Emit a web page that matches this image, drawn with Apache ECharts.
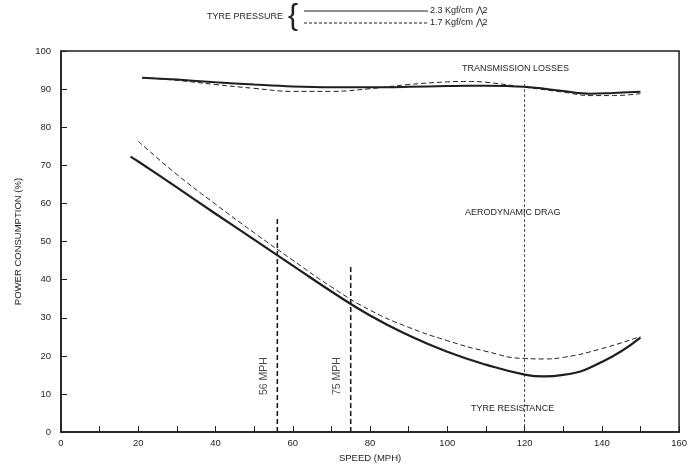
<!DOCTYPE html>
<html><head><meta charset="utf-8">
<script src="https://cdn.jsdelivr.net/npm/echarts@6/dist/echarts.min.js"></script>
<style>html,body{margin:0;padding:0;background:#fff}#c{width:690px;height:468px}</style>
</head><body><div id="c"></div>
<script>
// Tyre resistance (2.3 kgf/cm^2 solid, 1.7 kgf/cm^2 dashed)
var tyreSpeedHigh = [18, 20, 30, 40, 50, 60, 70, 80, 90, 100, 110, 120, 125, 130, 140, 150];
var tyreHigh = [72.3, 71, 64.2, 57.3, 50.5, 43.7, 36.9, 30.6, 25.4, 21.1, 17.7, 15.1, 14.6, 15, 18.4, 24.8];
var tyreSpeedLow = [20, 30, 40, 50, 60, 70, 80, 90, 100, 110, 120, 125, 130, 140, 150];
var tyreLow  = [76.3, 67.6, 59.8, 52.3, 45.1, 38.1, 32, 27.5, 24, 21.2, 19.3, 19.2, 19.6, 21.9, 25.1];
// Transmission losses
var transSpeed = [21, 30, 40, 50, 60, 70, 80, 90, 100, 105, 110, 120, 130, 137, 143, 150];
var transHigh = [93, 92.5, 91.8, 91.2, 90.7, 90.5, 90.5, 90.6, 90.8, 90.9, 90.9, 90.6, 89.5, 88.8, 89.0, 89.3];
var transLow  = [93, 92.3, 91.2, 90.2, 89.4, 89.4, 90.1, 91.2, 91.9, 92, 91.8, 90.5, 89.2, 88.3, 88.3, 88.8];
// Reference speed markers
var markSpeeds = [56, 75, 120];
var markTops = [56, 44, 92];
var markLabels = ['56 MPH', '75 MPH', ''];
var xTicks = [0, 20, 40, 60, 80, 100, 120, 140, 160];
var yTicks = [0, 10, 20, 30, 40, 50, 60, 70, 80, 90, 100];

function pairs(xs, ys){ return xs.map(function(x,i){ return [x, ys[i]]; }); }
var ink = '#1e1e1e';
var font = '"Liberation Sans", Arial, sans-serif';

var series = [
  {type:'line', data:pairs(tyreSpeedHigh, tyreHigh), smooth:0.5, symbol:'none', lineStyle:{color:ink, width:2.2}},
  {type:'line', data:pairs(tyreSpeedLow, tyreLow), smooth:0.5, symbol:'none', lineStyle:{color:ink, width:1, type:[5,3]}},
  {type:'line', data:pairs(transSpeed, transHigh), smooth:0.4, symbol:'none', lineStyle:{color:ink, width:2}},
  {type:'line', data:pairs(transSpeed, transLow), smooth:0.4, symbol:'none', lineStyle:{color:ink, width:1, type:[5,3]}}
];
markSpeeds.forEach(function(s, i){
  var major = i < 2;
  series.push({type:'line', data:[[s,0],[s,markTops[i]]], symbol:'none', silent:true,
    lineStyle:{color:ink, width: major ? 1.6 : 0.8, type: major ? [5,3] : [3,2]},
    label:{show:false}});
  if (markLabels[i]) {
    series.push({type:'scatter', data:[[s, 0]], symbolSize:0, silent:true,
      label:{show:true, formatter:markLabels[i], rotate:90, position:'insideBottomLeft', align:'left',
        verticalAlign:'bottom', offset:[32, -13], color:ink, fontSize:10.5, fontFamily:font}});
  }
});

var chart = echarts.init(document.getElementById('c'));
chart.setOption({
  animation:false,
  grid:{left:61, right:10, top:51, bottom:32, show:true, borderColor:ink, borderWidth:1.5, backgroundColor:'transparent'},
  xAxis:{type:'value', min:0, max:160, interval:10,
    name:'SPEED (MPH)', nameLocation:'middle', nameGap:20, nameTextStyle:{color:ink, fontSize:9.5, fontFamily:font},
    axisLine:{lineStyle:{color:ink, width:1.5}},
    axisTick:{inside:true, length:6, lineStyle:{color:ink}},
    axisLabel:{color:ink, fontSize:9.5, fontFamily:font, margin:6,
      formatter:function(v){ return xTicks.indexOf(v) >= 0 ? String(v) : ''; }},
    splitLine:{show:false}},
  yAxis:{type:'value', min:0, max:100, interval:10,
    name:'POWER CONSUMPTION (%)', nameLocation:'middle', nameGap:38, nameTextStyle:{color:ink, fontSize:9.5, fontFamily:font},
    axisLine:{lineStyle:{color:ink, width:1.5}},
    axisTick:{inside:true, length:6, lineStyle:{color:ink}},
    axisLabel:{color:ink, fontSize:9.5, fontFamily:font, margin:10,
      formatter:function(v){ return yTicks.indexOf(v) >= 0 ? String(v) : ''; }},
    splitLine:{show:false}},
  series:series,
  graphic:[
    {type:'text', left:207, top:12, style:{text:'TYRE PRESSURE', fill:ink, font:'9px '+font}},
    {type:'text', left:288, top:2, style:{text:'{', fill:ink, font:'30px '+font}},
    {type:'line', shape:{x1:304, y1:11, x2:428, y2:11}, style:{stroke:ink, lineWidth:1}},
    {type:'line', shape:{x1:304, y1:23, x2:428, y2:23}, style:{stroke:ink, lineWidth:1, lineDash:[3,2]}},
    {type:'text', left:430, top:6, style:{text:'2.3 Kgf/cm \u22C02', fill:ink, font:'9px '+font}},
    {type:'text', left:430, top:18, style:{text:'1.7 Kgf/cm \u22C02', fill:ink, font:'9px '+font}},
    {type:'text', left:462, top:64, style:{text:'TRANSMISSION LOSSES', fill:ink, font:'9px '+font}},
    {type:'text', left:465, top:208, style:{text:'AERODYNAMIC DRAG', fill:ink, font:'9px '+font, backgroundColor:'#fff'}},
    {type:'text', left:471, top:404, style:{text:'TYRE RESISTANCE', fill:ink, font:'9px '+font, backgroundColor:'#fff'}}
  ]
});
</script></body></html>
